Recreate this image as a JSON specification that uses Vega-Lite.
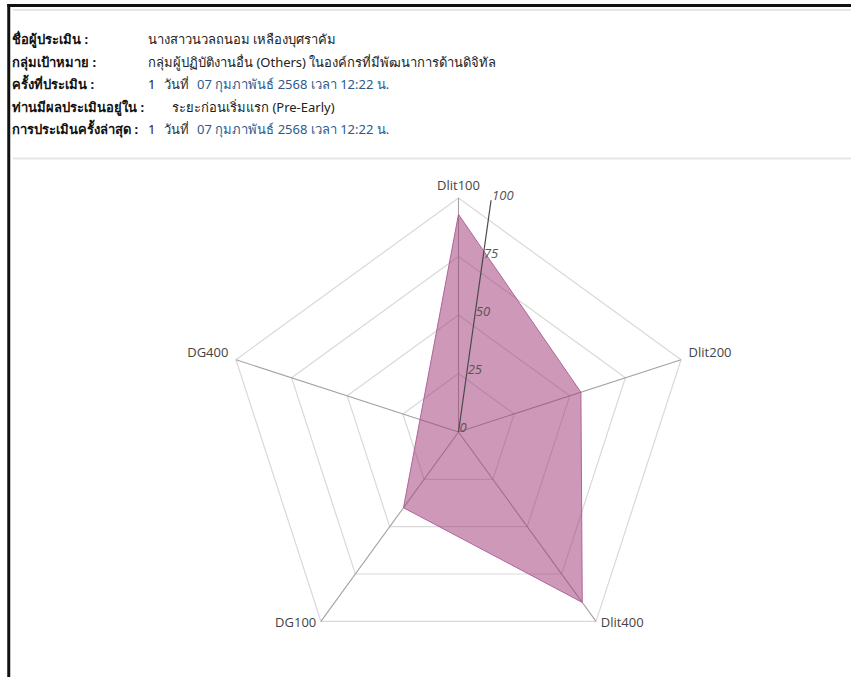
{
  "$schema": "https://vega.github.io/schema/vega-lite/v6.json",
  "width": 851,
  "height": 677,
  "autosize": "none",
  "padding": 0,
  "background": "white",
  "config": {"view": {"stroke": null}, "font": "Open Sans"},
  "datasets": {
    "scores": [
      {"axis": "Dlit100", "idx": 0, "score": 93},
      {"axis": "Dlit200", "idx": 1, "score": 55},
      {"axis": "Dlit400", "idx": 2, "score": 90},
      {"axis": "DG100", "idx": 3, "score": 40},
      {"axis": "DG400", "idx": 4, "score": null}
    ],
    "rings": [
      {"level": 25, "idx": [0, 1, 2, 3, 4]},
      {"level": 50, "idx": [0, 1, 2, 3, 4]},
      {"level": 75, "idx": [0, 1, 2, 3, 4]},
      {"level": 100, "idx": [0, 1, 2, 3, 4]}
    ],
    "ticks": [{"tick": 0}, {"tick": 25}, {"tick": 50}, {"tick": 75}, {"tick": 100}],
    "header": [
      {"line": 1, "col": "label", "kind": "label", "text": "ชื่อผู้ประเมิน :"},
      {"line": 1, "col": "value", "kind": "text", "text": "นางสาวนวลถนอม เหลืองบุศราคัม"},
      {"line": 2, "col": "label", "kind": "label", "text": "กลุ่มเป้าหมาย :"},
      {"line": 2, "col": "value", "kind": "text", "text": "กลุ่มผู้ปฏิบัติงานอื่น (Others) ในองค์กรที่มีพัฒนาการด้านดิจิทัล"},
      {"line": 3, "col": "label", "kind": "label", "text": "ครั้งที่ประเมิน :"},
      {"line": 3, "col": "value", "kind": "text", "text": "1"},
      {"line": 3, "col": "value", "kind": "day", "text": "วันที่"},
      {"line": 3, "col": "value", "kind": "date", "text": "07 กุมภาพันธ์ 2568 เวลา 12:22 น."},
      {"line": 4, "col": "label", "kind": "label", "text": "ท่านมีผลประเมินอยู่ใน :"},
      {"line": 4, "col": "value", "kind": "wide", "text": "ระยะก่อนเริ่มแรก (Pre-Early)"},
      {"line": 5, "col": "label", "kind": "label", "text": "การประเมินครั้งล่าสุด :"},
      {"line": 5, "col": "value", "kind": "text", "text": "1"},
      {"line": 5, "col": "value", "kind": "day", "text": "วันที่"},
      {"line": 5, "col": "value", "kind": "date", "text": "07 กุมภาพันธ์ 2568 เวลา 12:22 น."}
    ]
  },
  "layer": [
    {
      "layer": [
        {
          "data": {"values": [{"k": 1}]},
          "mark": {"type": "rule", "color": "#111111", "strokeWidth": 3},
          "encoding": {
            "x": {"datum": -192.2, "type": "quantitative", "scale": {"domain": [-195.94, 167.74], "nice": false, "zero": false}, "axis": null},
            "y": {"datum": 182.9, "type": "quantitative", "scale": {"domain": [-104.7, 184.62], "nice": false, "zero": false}, "axis": null},
            "y2": {"datum": -106}
          }
        },
        {
          "data": {"values": [{"k": 1}]},
          "mark": {"type": "rule", "color": "#111111", "strokeWidth": 3},
          "encoding": {
            "x": {"datum": -192.8, "type": "quantitative", "scale": {"domain": [-195.94, 167.74], "nice": false, "zero": false}, "axis": null},
            "x2": {"datum": 170},
            "y": {"datum": 182.26, "type": "quantitative", "scale": {"domain": [-104.7, 184.62], "nice": false, "zero": false}, "axis": null}
          }
        },
        {
          "data": {"values": [{"v": 180.34}, {"v": 116.88}]},
          "mark": {"type": "rule", "color": "#e6e6e6", "strokeWidth": 2},
          "encoding": {
            "x": {"datum": -190.4, "type": "quantitative", "scale": {"domain": [-195.94, 167.74], "nice": false, "zero": false}, "axis": null},
            "x2": {"datum": 170},
            "y": {"field": "v", "type": "quantitative", "scale": {"domain": [-104.7, 184.62], "nice": false, "zero": false}, "axis": null}
          }
        },
        {
          "data": {"name": "rings"},
          "transform": [
            {"flatten": ["idx"]},
            {"calculate": "datum.idx * 2 * PI / 5", "as": "theta"},
            {"calculate": "datum.level * sin(datum.theta)", "as": "rx"},
            {"calculate": "datum.level * cos(datum.theta)", "as": "ry"}
          ],
          "mark": {"type": "line", "interpolate": "linear-closed", "color": "#d9d9d9", "strokeWidth": 1.2},
          "encoding": {
            "x": {"field": "rx", "type": "quantitative", "scale": {"domain": [-195.94, 167.74], "nice": false, "zero": false}, "axis": null},
            "y": {"field": "ry", "type": "quantitative", "scale": {"domain": [-104.7, 184.62], "nice": false, "zero": false}, "axis": null},
            "detail": {"field": "level"},
            "order": {"field": "idx"}
          }
        },
        {
          "data": {"name": "scores"},
          "transform": [
            {"calculate": "datum.idx * 2 * PI / 5", "as": "theta"},
            {"calculate": "100 * sin(datum.theta)", "as": "sx"},
            {"calculate": "100 * cos(datum.theta)", "as": "sy"},
            {"calculate": "0", "as": "zero"}
          ],
          "mark": {"type": "rule", "color": "#a3a3a3", "strokeWidth": 1.1},
          "encoding": {
            "x": {"field": "zero", "type": "quantitative", "scale": {"domain": [-195.94, 167.74], "nice": false, "zero": false}, "axis": null},
            "y": {"field": "zero", "type": "quantitative", "scale": {"domain": [-104.7, 184.62], "nice": false, "zero": false}, "axis": null},
            "x2": {"field": "sx"},
            "y2": {"field": "sy"}
          }
        },
        {
          "data": {"name": "scores"},
          "transform": [
            {"filter": "isValid(datum.score)"},
            {"calculate": "datum.idx * 2 * PI / 5", "as": "theta"},
            {"calculate": "datum.score * sin(datum.theta)", "as": "px"},
            {"calculate": "datum.score * cos(datum.theta)", "as": "py"}
          ],
          "mark": {"type": "line", "interpolate": "linear-closed", "fill": "#a23a76", "fillOpacity": 0.52, "stroke": "#b0639a", "strokeWidth": 1},
          "encoding": {
            "x": {"field": "px", "type": "quantitative", "scale": {"domain": [-195.94, 167.74], "nice": false, "zero": false}, "axis": null},
            "y": {"field": "py", "type": "quantitative", "scale": {"domain": [-104.7, 184.62], "nice": false, "zero": false}, "axis": null},
            "order": {"field": "idx"}
          }
        },
        {
          "data": {"name": "ticks"},
          "transform": [
            {"calculate": "datum.tick * sin(8 * PI / 180)", "as": "tx"},
            {"calculate": "datum.tick * cos(8 * PI / 180)", "as": "ty"},
            {"calculate": "0", "as": "zero"},
            {"filter": "datum.tick == 100"}
          ],
          "mark": {"type": "rule", "color": "#4a4a4a", "strokeWidth": 1.2},
          "encoding": {
            "x": {"field": "zero", "type": "quantitative", "scale": {"domain": [-195.94, 167.74], "nice": false, "zero": false}, "axis": null},
            "y": {"field": "zero", "type": "quantitative", "scale": {"domain": [-104.7, 184.62], "nice": false, "zero": false}, "axis": null},
            "x2": {"field": "tx"},
            "y2": {"field": "ty"}
          }
        },
        {
          "data": {"name": "ticks"},
          "transform": [
            {"calculate": "datum.tick * sin(8 * PI / 180)", "as": "tx"},
            {"calculate": "datum.tick * cos(8 * PI / 180)", "as": "ty"}
          ],
          "mark": {"type": "text", "align": "left", "baseline": "middle", "dx": 1, "dy": -4, "fontSize": 13, "fontStyle": "italic", "color": "#555555"},
          "encoding": {
            "x": {"field": "tx", "type": "quantitative", "scale": {"domain": [-195.94, 167.74], "nice": false, "zero": false}, "axis": null},
            "y": {"field": "ty", "type": "quantitative", "scale": {"domain": [-104.7, 184.62], "nice": false, "zero": false}, "axis": null},
            "text": {"field": "tick"}
          }
        },
        {
          "data": {"name": "scores"},
          "transform": [
            {"filter": "datum.idx == 0"},
            {"calculate": "datum.idx * 2 * PI / 5", "as": "theta"},
            {"calculate": "103.4 * sin(datum.theta)", "as": "lx"},
            {"calculate": "103.4 * cos(datum.theta)", "as": "ly"}
          ],
          "mark": {"type": "text", "align": "center", "baseline": "middle", "dy": -4.5, "fontSize": 13, "color": "#444444"},
          "encoding": {
            "x": {"field": "lx", "type": "quantitative", "scale": {"domain": [-195.94, 167.74], "nice": false, "zero": false}, "axis": null},
            "y": {"field": "ly", "type": "quantitative", "scale": {"domain": [-104.7, 184.62], "nice": false, "zero": false}, "axis": null},
            "text": {"field": "axis"}
          }
        },
        {
          "data": {"name": "scores"},
          "transform": [
            {"filter": "datum.idx == 1 || datum.idx == 2"},
            {"calculate": "datum.idx * 2 * PI / 5", "as": "theta"},
            {"calculate": "103.4 * sin(datum.theta)", "as": "lx"},
            {"calculate": "103.4 * cos(datum.theta)", "as": "ly"}
          ],
          "mark": {"type": "text", "align": "left", "baseline": "middle", "dy": -4.5, "fontSize": 13, "color": "#444444"},
          "encoding": {
            "x": {"field": "lx", "type": "quantitative", "scale": {"domain": [-195.94, 167.74], "nice": false, "zero": false}, "axis": null},
            "y": {"field": "ly", "type": "quantitative", "scale": {"domain": [-104.7, 184.62], "nice": false, "zero": false}, "axis": null},
            "text": {"field": "axis"}
          }
        },
        {
          "data": {"name": "scores"},
          "transform": [
            {"filter": "datum.idx == 3 || datum.idx == 4"},
            {"calculate": "datum.idx * 2 * PI / 5", "as": "theta"},
            {"calculate": "103.4 * sin(datum.theta)", "as": "lx"},
            {"calculate": "103.4 * cos(datum.theta)", "as": "ly"}
          ],
          "mark": {"type": "text", "align": "right", "baseline": "middle", "dy": -4.5, "fontSize": 13, "color": "#444444"},
          "encoding": {
            "x": {"field": "lx", "type": "quantitative", "scale": {"domain": [-195.94, 167.74], "nice": false, "zero": false}, "axis": null},
            "y": {"field": "ly", "type": "quantitative", "scale": {"domain": [-104.7, 184.62], "nice": false, "zero": false}, "axis": null},
            "text": {"field": "axis"}
          }
        }
      ]
    },
    {
      "data": {"name": "header"},
      "layer": [
        {
          "transform": [{"filter": "datum.kind == 'label'"}],
          "mark": {"type": "text", "align": "left", "baseline": "middle", "fontSize": 13, "fontWeight": "bold", "color": "#111111", "font": "Noto Sans"}
        },
        {
          "transform": [{"filter": "datum.kind == 'text'"}],
          "mark": {"type": "text", "align": "left", "baseline": "middle", "fontSize": 13, "color": "#222222", "font": "Noto Sans"}
        },
        {
          "transform": [{"filter": "datum.kind == 'wide'"}],
          "mark": {"type": "text", "align": "left", "baseline": "middle", "dx": 24, "fontSize": 13, "color": "#222222", "font": "Noto Sans"}
        },
        {
          "transform": [{"filter": "datum.kind == 'day'"}],
          "mark": {"type": "text", "align": "left", "baseline": "middle", "dx": 16, "fontSize": 13, "color": "#333333", "font": "Noto Sans"}
        },
        {
          "transform": [{"filter": "datum.kind == 'date'"}],
          "mark": {"type": "text", "align": "left", "baseline": "middle", "dx": 49, "fontSize": 13, "color": "#2e5a8c", "font": "Noto Sans"}
        }
      ],
      "encoding": {
        "x": {"field": "col", "type": "nominal", "scale": {"type": "point", "domain": ["label", "value"], "range": [12, 148], "padding": 0}, "axis": null},
        "y": {"field": "line", "type": "ordinal", "scale": {"type": "point", "domain": [1, 2, 3, 4, 5], "range": [40, 130], "padding": 0}, "axis": null},
        "text": {"field": "text"}
      }
    }
  ],
  "resolve": {"scale": {"x": "independent", "y": "independent"}}
}
